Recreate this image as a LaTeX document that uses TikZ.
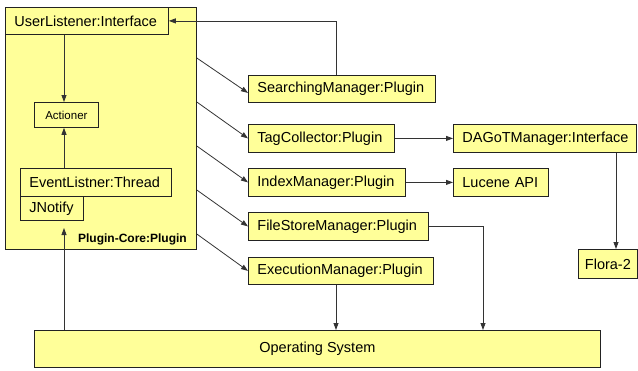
\documentclass[tikz,border=0pt]{standalone}
\usepackage{fontspec}
\setmainfont{Liberation Sans}
\usetikzlibrary{arrows.meta}
\definecolor{yel}{HTML}{FFFF99}
\definecolor{linec}{HTML}{222222}
\definecolor{wirec}{HTML}{333333}
\newcommand\fsbig{\fontsize{14.5}{17}\selectfont}
\newcommand\fssmall{\fontsize{11.5}{13}\selectfont}
\newcommand\fsbold{\fontsize{12}{14}\selectfont\bfseries}
\tikzset{
  box/.style={draw=linec, line width=0.8pt, fill=yel, anchor=north west, inner xsep=9pt, inner ysep=0pt, align=left, font=\fsbig},
  cbox/.style={draw=linec, line width=0.8pt, fill=yel, anchor=north west, inner sep=0pt, align=center, font=\fsbig},
  wire/.style={draw=wirec, line width=0.8pt},
  arr/.style={wire, -{Triangle[length=7pt,width=5pt]}}
}
\begin{document}
\begin{tikzpicture}[x=1pt,y=-1pt]
\useasboundingbox (0,0) rectangle (638,370);
% core container
\node[cbox, minimum width=191pt, minimum height=242pt] (core) at (5,7) {};
\node[font=\fsbold, anchor=east, inner sep=0pt] (corelabel) at (187,239) {Plugin-Core:Plugin};
\node[box, text width=145pt, minimum height=27pt] (user) at (5,7) {UserListener:Interface};
\node[cbox, font=\fssmall, minimum width=64pt, minimum height=25pt] (actioner) at (34,102) {Actioner};
\node[box, text width=133pt, minimum height=28pt] (event) at (20,168) {EventListner:Thread};
\node[box, text width=45pt, minimum height=24pt] (jnotify) at (20,196) {JNotify};
% plugins
\node[box, text width=169pt, minimum height=27pt] (search) at (248,75) {SearchingManager:Plugin};
\node[box, text width=128pt, minimum height=28pt] (tag) at (248,124) {TagCollector:Plugin};
\node[box, text width=139pt, minimum height=28pt] (index) at (248,168) {IndexManager:Plugin};
\node[box, text width=162pt, minimum height=28pt] (filestore) at (248,212) {FileStoreManager:Plugin};
\node[box, text width=167pt, minimum height=27pt] (exec) at (248,257) {ExecutionManager:Plugin};
\node[box, text width=165pt, minimum height=28pt] (dagot) at (453,124) {DAGoTManager:Interface};
\node[box, text width=77pt, minimum height=28pt] (lucene) at (453,168) {Lucene API};
\node[cbox, minimum width=59pt, minimum height=29pt] (flora) at (578,249) {Flora-2};
\node[cbox, minimum width=566pt, minimum height=37pt] (os) at (34,330) {Operating System};
% helper coordinates
\coordinate (ax) at (64,0);
\coordinate (coreIn) at (64,228);
\coordinate (sx) at (336,0);
\coordinate (fx) at (483,0);
\coordinate (dx) at (616,0);
% internal arrows
\draw[arr] (user.south -| ax) -- (actioner.north -| ax);
\draw[arr] (event.north -| ax) -- (actioner.south -| ax);
\draw[arr] (os.north -| ax) -- (coreIn);
% diagonals
\draw[arr] ([yshift=-51pt]core.north east) -- ([yshift=-4pt]search.west);
\draw[arr] ([yshift=-95pt]core.north east) -- (tag.west);
\draw[arr] ([yshift=-139pt]core.north east) -- (index.west);
\draw[arr] ([yshift=-183pt]core.north east) -- (filestore.west);
\draw[arr] ([yshift=-227pt]core.north east) -- (exec.west);
% others
\draw[arr] (search.north -| sx) |- (user.east);
\draw[arr] (tag.east) -- (dagot.west);
\draw[arr] (index.east) -- (lucene.west);
\draw[arr] (dagot.south -| dx) -- (flora.north -| dx);
\draw[arr] (filestore.east) -| (os.north -| fx);
\draw[arr] (exec.south -| sx) -- (os.north -| sx);
\end{tikzpicture}
\end{document}
